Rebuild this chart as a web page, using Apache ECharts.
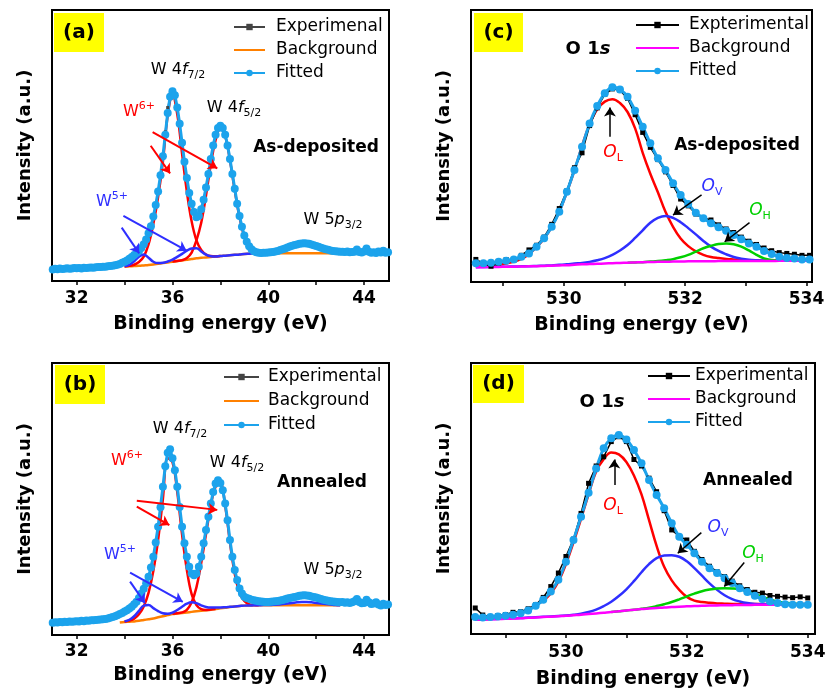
<!DOCTYPE html>
<html>
<head>
<meta charset="utf-8">
<script src="https://cdn.jsdelivr.net/npm/echarts@6.0.0/dist/echarts.min.js"></script>
<style>
html, body { margin: 0; padding: 0; background: #fff; }
#main { width: 830px; height: 695px; }
</style>
</head>
<body>
<div id="main"></div>
<script>
var FONT = 'DejaVu Sans';

// ---- energy grids (x positions of the recorded points) ----
var wEnergy = [];      // W 4f scans: 31.0 ... 45.0 eV, 0.1 eV step
for (var i = 0; i <= 140; i++) wEnergy.push(Math.round(310 + i) / 10);
var wCompEnergy = [];  // fitted components: 33.8 ... 43.0 eV, 0.2 eV step
for (i = 0; i <= 46; i++) wCompEnergy.push(Math.round(338 + 2 * i) / 10);
var oEnergyC = [];     // O 1s as-deposited: 528.55 ... 534.05 eV
for (i = 0; i <= 44; i++) oEnergyC.push(528.55 + 0.125 * i);
var oEnergyD = [];     // O 1s annealed: 528.5 ... 534.0 eV
for (i = 0; i <= 44; i++) oEnergyD.push(528.5 + 0.125 * i);

// ---- (a) W 4f, as-deposited (intensity in % of plot height) ----
var fitA = [4.2, 4.5, 4.3, 4.6, 4.4, 4.5, 4.7, 4.5, 4.6, 4.8,
  4.7, 4.8, 4.6, 4.9, 4.8, 4.9, 5.0, 4.9, 5.1, 5.2,
  5.2, 5.3, 5.3, 5.4, 5.5, 5.6, 5.8, 6.0, 6.3, 6.7,
  7.1, 7.6, 8.2, 8.9, 9.6, 10.3, 11.1, 12.2, 13.6, 15.3,
  17.6, 20.2, 23.8, 28.0, 33.0, 39.0, 46.0, 54.0, 62.0, 68.0,
  70.0, 68.5, 64.0, 58.0, 51.0, 44.0, 38.0, 32.5, 28.5, 25.5,
  23.5, 24.0, 26.5, 30.0, 34.5, 39.5, 45.0, 50.0, 54.0, 56.5,
  57.3, 56.5, 54.0, 50.0, 45.0, 39.5, 34.0, 28.5, 24.0, 20.0,
  16.8, 14.5, 12.8, 11.7, 11.0, 10.6, 10.4, 10.3, 10.4, 10.4,
  10.5, 10.6, 10.7, 10.9, 11.1, 11.4, 11.7, 12.0, 12.4, 12.7,
  13.0, 13.3, 13.5, 13.7, 13.8, 13.9, 13.8, 13.7, 13.5, 13.2,
  12.9, 12.6, 12.3, 12.0, 11.7, 11.5, 11.3, 11.1, 11.0, 10.9,
  10.8, 10.8, 10.7, 10.9, 10.6, 10.7, 10.8, 11.6, 10.7, 10.5,
  10.9, 12.0, 10.8, 10.4, 10.6, 10.3, 10.9, 10.5, 11.2, 10.4,
  10.6];
var expA = [4.4, 4.3, 4.5, 4.5, 4.3, 4.6, 4.6, 4.4, 4.7, 4.7,
  4.8, 4.7, 4.7, 4.8, 4.9, 4.8, 5.1, 5.0, 5.0, 5.3,
  5.3, 5.2, 5.4, 5.4, 5.6, 5.5, 5.9, 6.1, 6.2, 6.8,
  7.2, 7.5, 8.3, 8.8, 9.7, 10.4, 11.0, 12.3, 13.5, 15.5,
  17.5, 20.5, 23.5, 28.3, 33.2, 39.5, 46.5, 55.0, 64.0, 69.0,
  70.3, 68.3, 63.5, 58.2, 50.5, 44.3, 37.8, 32.7, 28.2, 25.7,
  23.3, 24.2, 26.3, 30.2, 34.3, 39.8, 45.3, 50.3, 54.5, 57.0,
  57.8, 56.2, 54.2, 49.7, 45.3, 39.2, 34.3, 28.2, 24.2, 19.8,
  16.9, 14.3, 12.9, 11.6, 11.1, 10.5, 10.5, 10.2, 10.5, 10.3,
  10.6, 10.5, 10.8, 10.8, 11.2, 11.3, 11.8, 12.1, 12.3, 12.8,
  13.1, 13.2, 13.6, 13.8, 14.3, 14.2, 13.9, 13.6, 13.6, 13.1,
  13.0, 12.5, 12.4, 11.9, 11.8, 11.4, 11.4, 11.0, 11.1, 10.8,
  10.9, 10.7, 10.8, 10.8, 10.7, 10.6, 10.9, 11.5, 10.8, 10.4,
  11.0, 11.9, 10.9, 10.3, 10.7, 10.2, 11.0, 10.4, 11.3, 10.3,
  10.7];
var bgA = [null, 5.3, 5.4, 5.5, 5.6, 5.75, 5.9, 6.1, 6.35, 6.6, 6.85,
  7.1, 7.35, 7.6, 7.85, 8.1, 8.4, 8.55, 8.7, 8.85, 9.0,
  9.2, 9.35, 9.5, 9.65, 9.8, 10.0, 10.1, 10.15, 10.2, 10.2,
  10.2, 10.2, 10.2, 10.2, 10.2, 10.2, 10.2, 10.2, 10.2, 10.2,
  10.2, 10.2, 10.2, 10.2, 10.2, 10.2];
var w6a1 = [null, 5.4, 5.6, 6.0, 7.0, 9.0, 13.5, 21.0, 31.0, 44.0, 61.0,
  68.5, 61.5, 47.0, 33.0, 22.0, 15.0, 11.5, 9.8, 9.2, 9.1, 9.2,
  null, null, null, null, null, null, null, null, null, null, null, null,
  null, null, null, null, null, null, null, null, null, null, null, null, null];
var w6a2 = [null, null, null, null, null, null, null, null, null, null, null,
  7.2, 7.4, 7.7, 8.5, 10.5, 15.0, 21.5, 31.5, 43.0, 52.0,
  56.3, 53.5, 44.5, 33.5, 23.5, 16.5, 12.8, 11.2, 10.5, 10.3, 10.2,
  null, null, null, null, null, null, null, null, null, null, null, null, null, null, null];
var w5a = [null, 5.4, 6.0, 7.3, 9.0, 9.8, 8.6, 7.1, 6.6, 6.7, 7.2,
  7.9, 8.9, 10.0, 11.2, 12.0, 12.1, 10.9, 9.7, 9.1, 9.0,
  9.2, 9.35, 9.5, 9.65, 9.8, 10.0, 10.1, 10.2, 10.3, 10.4,
  10.5, 10.7, 11.0, 11.4, 11.9, 12.4, 12.8, 13.1, 13.1, 12.8,
  12.4, 11.9, 11.4, 11.0, 10.6, 10.4];

// ---- (b) W 4f, annealed ----
var fitB = [4.5, 4.7, 4.6, 4.8, 4.7, 4.9, 4.8, 5.0, 4.9, 5.0,
  5.1, 5.0, 5.2, 5.1, 5.3, 5.2, 5.4, 5.4, 5.5, 5.6,
  5.7, 5.8, 5.9, 6.1, 6.3, 6.6, 6.9, 7.3, 7.7, 8.1,
  8.6, 9.1, 9.7, 10.4, 11.3, 12.2, 13.6, 15.3, 17.0, 19.0,
  21.4, 24.8, 28.8, 34.0, 39.8, 47.0, 54.5, 62.0, 67.0, 68.3,
  65.0, 60.6, 54.5, 47.1, 39.8, 33.7, 28.8, 25.1, 22.6, 22.0,
  22.6, 25.1, 28.8, 33.7, 38.6, 43.5, 48.3, 52.6, 55.7, 56.9,
  55.9, 53.2, 48.3, 42.2, 34.9, 28.8, 23.9, 20.2, 17.1, 15.3,
  14.1, 13.6, 13.3, 13.0, 12.8, 12.6, 12.4, 12.3, 12.2, 12.1,
  12.1, 12.2, 12.3, 12.4, 12.5, 12.7, 12.9, 13.1, 13.4, 13.6,
  13.8, 14.0, 14.2, 14.4, 14.5, 14.6, 14.5, 14.4, 14.2, 14.0,
  13.8, 13.5, 13.2, 13.0, 12.8, 12.6, 12.4, 12.3, 12.2, 12.1,
  12.0, 12.1, 11.9, 12.0, 11.8, 12.0, 12.4, 13.2, 12.1, 11.7,
  11.8, 13.0, 12.0, 11.4, 11.6, 12.0, 11.2, 10.8, 11.5, 11.0,
  11.2];
var expB = [4.6, 4.6, 4.7, 4.7, 4.8, 4.8, 4.9, 4.9, 5.0, 5.1,
  5.0, 5.1, 5.1, 5.2, 5.2, 5.3, 5.3, 5.5, 5.4, 5.7,
  5.6, 5.9, 5.8, 6.2, 6.2, 6.7, 6.8, 7.4, 7.6, 8.3,
  8.5, 9.3, 9.6, 10.6, 11.2, 12.4, 13.5, 15.5, 16.8, 19.3,
  21.2, 25.0, 28.6, 34.3, 39.5, 47.3, 54.2, 62.5, 67.5, 68.0,
  65.3, 60.2, 54.8, 46.6, 40.3, 33.2, 29.3, 24.6, 23.0, 21.6,
  23.0, 24.8, 29.2, 33.3, 39.0, 43.1, 48.7, 52.3, 56.0, 56.6,
  56.2, 52.8, 48.6, 41.8, 35.3, 28.4, 24.2, 19.8, 17.4, 15.0,
  14.3, 13.4, 13.5, 12.8, 13.0, 12.4, 12.6, 12.1, 12.4, 11.9,
  12.3, 12.0, 12.5, 12.2, 12.7, 12.5, 13.1, 12.9, 13.6, 13.4,
  14.0, 13.8, 14.4, 14.2, 14.7, 14.4, 14.7, 14.2, 14.4, 13.8,
  14.0, 13.3, 13.4, 12.8, 13.0, 12.4, 12.6, 12.1, 12.4, 11.9,
  12.2, 11.9, 12.1, 11.8, 12.0, 11.8, 12.6, 13.0, 12.3, 11.5,
  12.0, 12.8, 12.2, 11.2, 11.8, 11.8, 11.4, 10.6, 11.7, 10.8,
  11.4];
var bgB = [4.6, 4.8, 4.9, 5.0, 5.2, 5.5, 5.8, 6.1, 6.5, 6.9,
  7.3, 7.7, 7.9, 8.1, 8.3, 8.5, 8.7, 8.9, 9.1, 9.3,
  9.55, 9.8, 10.05, 10.3, 10.5, 10.65, 10.8, 10.85, 10.9, 10.9,
  10.9, 10.9, 10.9, 10.9, 10.9, 10.9, 10.9, 10.9, 10.9, 10.9,
  10.9, 10.9, 10.9, 10.9, 10.9, 10.9, 10.9];
var w6b1 = [null, 4.9, 5.3, 6.0, 7.6, 10.5, 15.5, 23.5, 35.0, 50.0, 65.0,
  63.5, 52.5, 37.0, 24.0, 15.0, 11.0, 9.5, 9.2, 9.4, 9.6,
  null, null, null, null, null, null, null, null, null, null, null, null, null,
  null, null, null, null, null, null, null, null, null, null, null, null, null];
var w6b2 = [null, null, null, null, null, null, null, null, null, null, null,
  7.8, 8.0, 8.3, 9.2, 12.0, 17.5, 26.5, 37.0, 47.5, 54.5,
  55.5, 47.5, 34.0, 22.5, 15.5, 12.5, 11.3, 11.0, 10.9,
  null, null, null, null, null, null, null, null, null, null, null, null, null, null, null, null, null];
var w5b = [null, 5.0, 5.6, 6.9, 8.9, 10.8, 11.0, 9.9, 8.8, 8.0, 7.8,
  8.2, 9.2, 10.4, 11.5, 12.0, 11.7, 10.9, 10.3, 10.1, 10.1,
  10.1, 10.2, 10.35, 10.5, 10.65, 10.8, 10.85, 10.9, 10.95, 11.0,
  11.0, 11.1, 11.2, 11.4, 11.6, 11.8, 12.0, 12.1, 12.1, 12.0,
  11.8, 11.6, 11.4, 11.2, 11.0, 10.9];

// ---- (c) O 1s, as-deposited ----
var fitC = [6.9, 6.9, 7.1, 7.4, 7.8, 8.3, 9.3, 10.5, 13.0, 16.1,
  20.3, 25.8, 33.2, 41.2, 49.7, 58.3, 64.7, 69.4, 71.6, 70.8,
  68.1, 63.0, 57.1, 51.0, 45.5, 41.2, 36.3, 32.0, 28.7, 25.5,
  23.4, 21.6, 20.1, 18.8, 17.3, 15.7, 14.2, 13.0, 11.4, 10.3,
  9.3, 8.8, 8.6, 8.3, 8.3];
var expC = [8.3, 6.8, 5.8, 7.0, 8.2, 8.0, 9.8, 11.8, 13.5, 16.5,
  21.2, 27.0, 33.5, 42.0, 47.5, 57.5, 64.0, 69.0, 71.0, 70.5,
  67.5, 61.5, 55.0, 49.5, 45.0, 40.5, 35.5, 30.5, 28.0, 25.0,
  23.5, 22.8, 21.0, 19.5, 18.2, 16.5, 15.0, 13.8, 12.5, 11.5,
  10.8, 10.5, 10.2, 9.8, 9.8];
var bgC = [5.4, 5.45, 5.5, 5.55, 5.6, 5.65, 5.7, 5.75, 5.8, 5.9,
  6.0, 6.1, 6.2, 6.35, 6.5, 6.6, 6.7, 6.8, 6.9, 7.0,
  7.1, 7.2, 7.3, 7.35, 7.4, 7.45, 7.5, 7.55, 7.6, 7.62,
  7.64, 7.66, 7.68, 7.7, 7.71, 7.72, 7.73, 7.74, 7.75, 7.76,
  7.77, 7.78, 7.79, 7.8, 7.8];
var olC = [5.6, 5.8, 6.0, 6.3, 6.8, 7.5, 8.5, 10.2, 12.8, 16.0,
  20.3, 25.8, 33.0, 41.0, 50.0, 58.0, 63.5, 66.3, 67.2, 65.8,
  62.5, 56.5, 47.5, 39.8, 33.0, 25.8, 20.3, 16.0, 13.2, 11.3,
  10.0, 9.2, 8.8, 8.5, 8.3, 8.1, 8.0, 7.9, 7.85, 7.85,
  7.85, 7.85, 7.85, 7.85, 7.85];
var ovC = [5.45, 5.5, 5.55, 5.6, 5.65, 5.7, 5.75, 5.8, 5.9, 6.0,
  6.1, 6.3, 6.5, 6.8, 7.0, 7.4, 8.0, 8.8, 10.0, 11.6,
  13.6, 16.2, 19.0, 21.8, 23.6, 24.3, 23.6, 22.0, 19.8, 17.5,
  15.1, 13.0, 11.4, 10.2, 9.2, 8.6, 8.2, 8.0, 7.9, 7.85,
  7.85, 7.85, 7.85, 7.85, 7.85];
var ohC = [null, null, null, null, null, null, null, null, null, null,
  null, null, null, null, null, null, null, null, null, null,
  7.1, 7.2, 7.3, 7.5, 7.7, 8.0, 8.4, 9.1, 10.0, 11.2,
  12.4, 13.3, 14.0, 14.2, 13.9, 13.0, 11.6, 10.0, 8.7, 8.1,
  7.9, 7.85, 7.85, 7.85, 7.85];

// ---- (d) O 1s, annealed ----
var fitD = [6.3, 6.1, 6.3, 6.5, 6.7, 7.1, 7.7, 8.7, 10.4, 12.6,
  15.7, 20.0, 26.7, 34.7, 43.3, 52.1, 61.1, 68.5, 72.2, 73.4,
  71.8, 67.9, 63.0, 56.8, 51.3, 46.4, 40.9, 35.9, 32.9, 29.8,
  26.7, 24.3, 22.5, 20.6, 18.8, 16.9, 15.5, 14.1, 12.9, 12.0,
  11.4, 11.0, 10.8, 10.8, 10.8];
var expD = [9.6, 7.0, 6.3, 6.8, 7.2, 8.0, 8.2, 9.3, 10.8, 13.5,
  17.5, 22.5, 28.6, 35.0, 44.5, 55.6, 62.0, 65.4, 71.0, 72.8,
  71.0, 64.4, 62.0, 57.5, 52.5, 45.5, 38.4, 36.0, 34.7, 30.5,
  27.5, 25.0, 23.0, 21.2, 19.5, 17.8, 16.4, 15.4, 15.1, 14.2,
  13.9, 13.6, 13.4, 13.7, 13.3];
var bgD = [5.3, 5.35, 5.4, 5.5, 5.6, 5.7, 5.8, 5.95, 6.1, 6.25,
  6.4, 6.55, 6.7, 6.9, 7.1, 7.35, 7.6, 7.85, 8.1, 8.4,
  8.7, 8.95, 9.2, 9.4, 9.6, 9.8, 9.95, 10.1, 10.2, 10.3,
  10.4, 10.5, 10.55, 10.6, 10.65, 10.7, 10.7, 10.75, 10.75, 10.8,
  10.8, 10.8, 10.8, 10.8, 10.8];
var olD = [5.35, 5.45, 5.6, 5.9, 6.3, 6.9, 7.8, 9.0, 10.6, 12.4,
  15.0, 19.3, 25.8, 33.8, 42.5, 51.5, 60.0, 64.5, 67.0, 66.3,
  63.5, 58.5, 51.5, 42.0, 32.5, 24.8, 19.8, 16.3, 13.7, 12.3,
  11.8, 11.5, 11.3, 11.2, 11.1, 11.1, 11.1, 11.1, 11.1, 11.1,
  11.1, 11.1, 11.1, 11.1, 11.1];
var ovD = [5.4, 5.45, 5.5, 5.6, 5.7, 5.8, 5.9, 6.05, 6.2, 6.35,
  6.5, 6.6, 6.8, 7.1, 7.5, 8.1, 9.0, 10.3, 11.9, 14.0,
  16.5, 19.5, 22.8, 25.8, 28.0, 29.0, 29.1, 28.5, 26.8, 24.3,
  21.5, 18.7, 16.3, 14.3, 12.9, 12.0, 11.4, 11.1, 11.0, 11.0,
  11.0, 11.0, 11.0, 11.0, 11.0];
var ohD = [null, null, null, null, null, null, null, null, null, null,
  null, null, null, null, null, null, null, null, 8.1, 8.4,
  8.7, 8.95, 9.3, 9.7, 10.3, 11.0, 11.8, 12.8, 13.9, 14.9,
  15.8, 16.4, 16.8, 16.9, 16.8, 16.5, 15.8, 14.8, 13.7, 12.8,
  12.0, 11.5, 11.2, 11.0, 11.0];

// ---- axis ticks ----
var wTicks = [32, 34, 36, 38, 40, 42, 44];
var wTickLabels = [32, 36, 40, 44];
var oTicks = [529, 530, 531, 532, 533, 534];
var oTickLabels = [530, 532, 534];

var legendText = {
  expA: 'Experimenal', bgA: 'Background', fitA: 'Fitted',
  expB: 'Experimental', bgB: 'Background', fitB: 'Fitted',
  expC: 'Expterimental', bgC: 'Background', fitC: 'Fitted',
  expD: 'Experimental', bgD: 'Background', fitD: 'Fitted'
};

var RED = '#ff0000', BLUE = '#2f2fff', GREEN = '#00d000', ORANGE = '#ff8000',
    MAGENTA = '#ff00ff', CYAN = '#1ca3ec';

function pts(xs, ys) {
  var r = [];
  for (var i = 0; i < xs.length; i++) {
    if (ys[i] !== null) r.push([xs[i], ys[i]]);
  }
  return r;
}

function curve(name, k, xs, ys, color, w) {
  return {
    name: name, type: 'line', xAxisIndex: k, yAxisIndex: k,
    data: pts(xs, ys), smooth: 0.4, symbol: 'none', silent: true,
    lineStyle: { color: color, width: w }, itemStyle: { color: color }
  };
}

function scan(name, k, xs, ys, color, w, sym, size, smooth) {
  return {
    name: name, type: 'line', xAxisIndex: k, yAxisIndex: k,
    data: pts(xs, ys), smooth: smooth, symbol: sym, symbolSize: size,
    showAllSymbol: true, silent: true,
    lineStyle: { color: color, width: w }, itemStyle: { color: color }
  };
}

function arrow(a, b, color, w) {
  return [{ coord: a, lineStyle: { color: color, width: w, type: 'solid' } }, { coord: b }];
}

function arrows(list) {
  return {
    silent: true, symbol: ['none', 'arrow'], symbolSize: 9,
    label: { show: false }, emphasis: { disabled: true },
    lineStyle: { type: 'solid', width: 2 }, data: list
  };
}

function xAxis(k, min, max, ticks, labels, margin, gap) {
  return {
    gridIndex: k, type: 'value', min: min, max: max,
    axisLine: { onZero: false, lineStyle: { color: '#000', width: 2 } },
    axisTick: { customValues: ticks, length: 4, lineStyle: { color: '#000', width: 1.5 } },
    axisLabel: { customValues: labels, margin: margin, color: '#000', fontSize: 17, fontWeight: 'bold', fontFamily: FONT },
    splitLine: { show: false },
    name: 'Binding energy (eV)', nameLocation: 'middle', nameGap: gap,
    nameTextStyle: { color: '#000', fontSize: 19, fontWeight: 'bold', fontFamily: FONT }
  };
}

function yAxis(k) {
  return {
    gridIndex: k, type: 'value', min: 0, max: 100,
    axisLine: { lineStyle: { color: '#000', width: 2 } },
    axisTick: { show: false }, axisLabel: { show: false }, splitLine: { show: false },
    name: 'Intensity (a.u.)', nameLocation: 'middle', nameGap: 18,
    nameTextStyle: { color: '#000', fontSize: 18, fontWeight: 'bold', fontFamily: FONT }
  };
}

function legendBox(left, top, w, gap, pad, names) {
  return {
    left: left, top: top, padding: 0, orient: 'vertical', align: 'left',
    itemWidth: w, itemHeight: 8, itemGap: gap, selectedMode: false,
    formatter: function (n) { return legendText[n]; },
    textStyle: { fontSize: 17, fontFamily: FONT, color: '#000', lineHeight: 17, padding: [0, 0, 0, pad] },
    data: [{ name: names[0] }, { name: names[1], itemStyle: { opacity: 0 } }, { name: names[2] }]
  };
}

// rich text pieces for the annotations
function tok(size, color, extra) {
  var s = { fontSize: size, fontFamily: FONT, fill: color, lineHeight: 22 };
  for (var key in extra) s[key] = extra[key];
  return s;
}
var rich = {
  n: tok(16, '#000'),
  i: tok(16, '#000', { fontStyle: 'italic' }),
  sub: tok(11, '#000', { lineHeight: 11, verticalAlign: 'bottom' }),
  t: tok(17, '#000', { fontWeight: 'bold' }),
  o: tok(18, '#000', { fontWeight: 'bold' }),
  os: tok(18, '#000', { fontWeight: 'bold', fontStyle: 'italic' }),
  wr: tok(16, RED), wrs: tok(11, RED, { lineHeight: 11, verticalAlign: 'top' }),
  wb: tok(16, BLUE), wbs: tok(11, BLUE, { lineHeight: 11, verticalAlign: 'top' }),
  lr: tok(17, RED, { fontStyle: 'italic' }), lrs: tok(11, RED, { lineHeight: 11, verticalAlign: 'bottom' }),
  lb: tok(17, BLUE, { fontStyle: 'italic' }), lbs: tok(11, BLUE, { lineHeight: 11, verticalAlign: 'bottom' }),
  lg: tok(17, GREEN, { fontStyle: 'italic' }), lgs: tok(11, GREEN, { lineHeight: 11, verticalAlign: 'bottom' }),
  badge: tok(20, '#000', { fontWeight: 'bold' })
};

function note(x, y, text) {
  return {
    type: 'text', x: x, y: y, z: 100, silent: true,
    style: { text: text, rich: rich, align: 'center', verticalAlign: 'middle',
             textAlign: 'center', textVerticalAlign: 'middle' }
  };
}
function badge(x, y, w, h, text) {
  return [
    { type: 'rect', z: 90, silent: true, shape: { x: x, y: y, width: w, height: h }, style: { fill: '#ffff00' } },
    note(x + w / 2, y + h / 2, '{badge|' + text + '}')
  ];
}

var graphics = [].concat(
  badge(54, 13, 50, 39, '(a)'),
  badge(474, 13, 49, 39, '(c)'),
  badge(55, 365, 50, 39, '(b)'),
  badge(473, 365, 51, 38, '(d)'),
  [
    note(178, 70, '{n|W 4}{i|f}{sub|7/2}'),
    note(139, 112, '{wr|W}{wrs|6+}'),
    note(234, 108, '{n|W 4}{i|f}{sub|5/2}'),
    note(316, 148, '{t|As-deposited}'),
    note(112, 202, '{wb|W}{wbs|5+}'),
    note(333, 220, '{n|W 5}{i|p}{sub|3/2}'),

    note(180, 429, '{n|W 4}{i|f}{sub|7/2}'),
    note(127, 461, '{wr|W}{wrs|6+}'),
    note(237, 463, '{n|W 4}{i|f}{sub|5/2}'),
    note(322, 483, '{t|Annealed}'),
    note(120, 555, '{wb|W}{wbs|5+}'),
    note(333, 570, '{n|W 5}{i|p}{sub|3/2}'),

    note(588, 49, '{o|O 1}{os|s}'),
    note(737, 146, '{t|As-deposited}'),
    note(613, 153, '{lr|O}{lrs|L}'),
    note(712, 187, '{lb|O}{lbs|V}'),
    note(760, 211, '{lg|O}{lgs|H}'),

    note(602, 402, '{o|O 1}{os|s}'),
    note(748, 481, '{t|Annealed}'),
    note(613, 506, '{lr|O}{lrs|L}'),
    note(718, 528, '{lb|O}{lbs|V}'),
    note(753, 554, '{lg|O}{lgs|H}')
  ]
);

var series = [
  // (a)
  curve('bgA', 0, wCompEnergy, bgA, ORANGE, 2.5),
  curve('w6a1', 0, wCompEnergy, w6a1, RED, 2.5),
  curve('w6a2', 0, wCompEnergy, w6a2, RED, 2.5),
  curve('w5a', 0, wCompEnergy, w5a, BLUE, 2.5),
  scan('expA', 0, wEnergy, expA, '#444', 1, 'rect', 3, false),
  scan('fitA', 0, wEnergy, fitA, CYAN, 3, 'circle', 8, false),
  // (b)
  curve('bgB', 1, wCompEnergy, bgB, ORANGE, 2.5),
  curve('w6b1', 1, wCompEnergy, w6b1, RED, 2.5),
  curve('w6b2', 1, wCompEnergy, w6b2, RED, 2.5),
  curve('w5b', 1, wCompEnergy, w5b, BLUE, 2.5),
  scan('expB', 1, wEnergy, expB, '#444', 1, 'rect', 3, false),
  scan('fitB', 1, wEnergy, fitB, CYAN, 3, 'circle', 8, false),
  // (c)
  curve('olC', 2, oEnergyC, olC, RED, 2.5),
  curve('ovC', 2, oEnergyC, ovC, BLUE, 2.5),
  curve('ohC', 2, oEnergyC, ohC, GREEN, 2.5),
  curve('bgC', 2, oEnergyC, bgC, MAGENTA, 2.5),
  scan('expC', 2, oEnergyC, expC, '#000', 1.5, 'rect', 5, false),
  scan('fitC', 2, oEnergyC, fitC, CYAN, 3, 'circle', 8, 0.3),
  // (d)
  curve('olD', 3, oEnergyD, olD, RED, 2.5),
  curve('ovD', 3, oEnergyD, ovD, BLUE, 2.5),
  curve('ohD', 3, oEnergyD, ohD, GREEN, 2.5),
  curve('bgD', 3, oEnergyD, bgD, MAGENTA, 2.5),
  scan('expD', 3, oEnergyD, expD, '#000', 1.5, 'rect', 5, false),
  scan('fitD', 3, oEnergyD, fitD, CYAN, 3, 'circle', 8, 0.3)
];

// annotation arrows, in data coordinates of each panel
series[5].markLine = arrows([
  arrow([35.09, 49.9], [35.90, 39.7], RED, 2),
  arrow([35.17, 54.9], [37.87, 41.6], RED, 2),
  arrow([33.88, 19.7], [34.61, 10.2], BLUE, 2),
  arrow([33.95, 24.0], [36.59, 11.2], BLUE, 2)
]);
series[11].markLine = arrows([
  arrow([34.51, 47.2], [35.87, 40.4], RED, 2),
  arrow([34.51, 49.4], [37.87, 46.0], RED, 2),
  arrow([34.23, 19.6], [34.85, 11.7], BLUE, 2),
  arrow([34.23, 22.9], [36.43, 12.2], BLUE, 2)
]);
series[17].markLine = arrows([
  arrow([530.76, 53.4], [530.76, 64.2], '#000', 1.5),
  arrow([532.27, 32.0], [531.80, 24.6], '#000', 1.5),
  arrow([533.06, 21.8], [532.65, 14.8], '#000', 1.5)
]);
series[23].markLine = arrows([
  arrow([530.80, 55.0], [530.80, 64.4], '#000', 1.5),
  arrow([532.24, 37.4], [531.85, 29.8], '#000', 1.5),
  arrow([532.95, 26.4], [532.62, 17.5], '#000', 1.5)
]);

var option = {
  animation: false,
  backgroundColor: '#fff',
  textStyle: { fontFamily: FONT },
  grid: [
    { left: 52, top: 10, width: 337, height: 271, show: true, borderColor: '#000', borderWidth: 2 },
    { left: 52, top: 363, width: 337, height: 272, show: true, borderColor: '#000', borderWidth: 2 },
    { left: 471, top: 10, width: 341, height: 272, show: true, borderColor: '#000', borderWidth: 2 },
    { left: 471, top: 363, width: 344, height: 271, show: true, borderColor: '#000', borderWidth: 2 }
  ],
  xAxis: [
    xAxis(0, 30.97, 45.04, wTicks, wTickLabels, 9, 34),
    xAxis(1, 30.97, 45.04, wTicks, wTickLabels, 8, 31),
    xAxis(2, 528.47, 534.09, oTicks, oTickLabels, 9, 34),
    xAxis(3, 528.43, 534.12, oTicks, oTickLabels, 10, 36)
  ],
  yAxis: [yAxis(0), yAxis(1), yAxis(2), yAxis(3)],
  legend: [
    legendBox(233, 18.5, 31, 6, 6, ['expA', 'bgA', 'fitA']),
    legendBox(223, 368.5, 35, 7, 4, ['expB', 'bgB', 'fitB']),
    legendBox(635, 16.5, 43, 6, 5, ['expC', 'bgC', 'fitC']),
    legendBox(647, 367.5, 42, 6, 0, ['expD', 'bgD', 'fitD'])
  ],
  graphic: graphics,
  series: series
};

var chart = echarts.init(document.getElementById('main'));
chart.setOption(option);
</script>
</body>
</html>
